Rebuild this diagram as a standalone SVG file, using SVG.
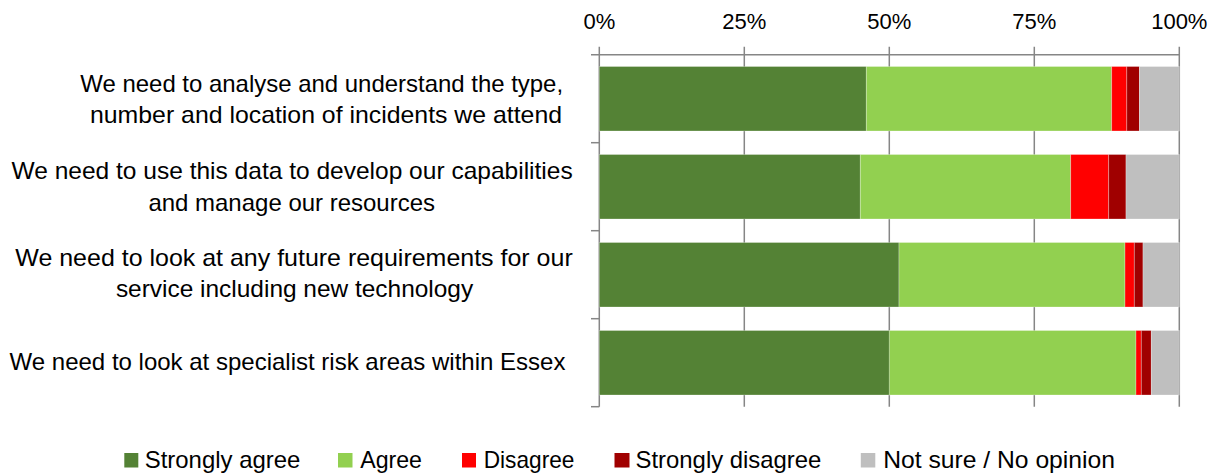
<svg xmlns="http://www.w3.org/2000/svg" width="1218" height="475" viewBox="0 0 1218 475">
<style>
text{font-family:"Liberation Sans",Arial,sans-serif;fill:#000}
.lbl{font-size:24px}
.ax{font-size:22px;text-anchor:middle}
.leg{font-size:24px}
.grid{stroke:#868686;stroke-width:1.5;fill:none}
.seg rect{stroke:#ffffff;stroke-opacity:0.35;stroke-width:0.8}
.sa{fill:#548235}.ag{fill:#92D050}.di{fill:#FF0000}.sd{fill:#A00000}.ns{fill:#BFBFBF}
</style>
<rect width="1218" height="475" fill="#ffffff"/>
<g id="axis-labels">
<text class="ax" x="599.3" y="28.5">0%</text>
<text class="ax" x="744.3" y="28.5">25%</text>
<text class="ax" x="889.3" y="28.5">50%</text>
<text class="ax" x="1034.3" y="28.5">75%</text>
<text class="ax" x="1179.3" y="28.5">100%</text>
</g>
<g id="gridlines" class="grid">
<line x1="591" y1="54.7" x2="1179.3" y2="54.7"/>
<line x1="599.3" y1="46.7" x2="599.3" y2="406.7"/>
<line x1="744.3" y1="46.7" x2="744.3" y2="406.7"/>
<line x1="889.3" y1="46.7" x2="889.3" y2="406.7"/>
<line x1="1034.3" y1="46.7" x2="1034.3" y2="406.7"/>
<line x1="1179.3" y1="46.7" x2="1179.3" y2="406.7"/>
<line x1="591" y1="142.7" x2="599.3" y2="142.7"/>
<line x1="591" y1="230.7" x2="599.3" y2="230.7"/>
<line x1="591" y1="318.7" x2="599.3" y2="318.7"/>
<line x1="591" y1="406.7" x2="599.3" y2="406.7"/>
</g>
<g id="bar1" class="seg">
<rect class="sa" x="599.3" y="66.5" width="267" height="64.5"/>
<rect class="ag" x="866.3" y="66.5" width="245.4" height="64.5"/>
<rect class="di" x="1111.7" y="66.5" width="15.1" height="64.5"/>
<rect class="sd" x="1126.8" y="66.5" width="12.6" height="64.5"/>
<rect class="ns" x="1139.4" y="66.5" width="39.9" height="64.5"/>
</g>
<g id="bar2" class="seg">
<rect class="sa" x="599.3" y="154.5" width="261" height="64.5"/>
<rect class="ag" x="860.3" y="154.5" width="210.4" height="64.5"/>
<rect class="di" x="1070.7" y="154.5" width="38" height="64.5"/>
<rect class="sd" x="1108.7" y="154.5" width="17.3" height="64.5"/>
<rect class="ns" x="1126" y="154.5" width="53.3" height="64.5"/>
</g>
<g id="bar3" class="seg">
<rect class="sa" x="599.3" y="242.5" width="299.7" height="64.5"/>
<rect class="ag" x="899" y="242.5" width="226" height="64.5"/>
<rect class="di" x="1125" y="242.5" width="9.3" height="64.5"/>
<rect class="sd" x="1134.3" y="242.5" width="8.7" height="64.5"/>
<rect class="ns" x="1143" y="242.5" width="36.3" height="64.5"/>
</g>
<g id="bar4" class="seg">
<rect class="sa" x="599.3" y="330.5" width="290" height="64.5"/>
<rect class="ag" x="889.3" y="330.5" width="246.7" height="64.5"/>
<rect class="di" x="1136" y="330.5" width="5.3" height="64.5"/>
<rect class="sd" x="1141.3" y="330.5" width="10" height="64.5"/>
<rect class="ns" x="1151.3" y="330.5" width="28" height="64.5"/>
</g>
<g id="category-labels" class="lbl">
<text class="lbl" x="80.3" y="91.7" textLength="482.8" lengthAdjust="spacingAndGlyphs">We need to analyse and understand the type,</text>
<text class="lbl" x="90" y="123.3" textLength="472" lengthAdjust="spacingAndGlyphs">number and location of incidents we attend</text>
<text class="lbl" x="11.5" y="179" textLength="561.2" lengthAdjust="spacingAndGlyphs">We need to use this data to develop our capabilities</text>
<text class="lbl" x="148.4" y="210.7" textLength="286.6" lengthAdjust="spacingAndGlyphs">and manage our resources</text>
<text class="lbl" x="15.3" y="265.7" textLength="557.4" lengthAdjust="spacingAndGlyphs">We need to look at any future requirements for our</text>
<text class="lbl" x="115.9" y="297.3" textLength="357.3" lengthAdjust="spacingAndGlyphs">service including new technology</text>
<text class="lbl" x="9.6" y="370" textLength="555.8" lengthAdjust="spacingAndGlyphs">We need to look at specialist risk areas within Essex</text>
</g>
<g id="legend">
<rect class="sa" x="124.3" y="453" width="14" height="14.5"/>
<text class="leg" x="144.7" y="468" textLength="155.7" lengthAdjust="spacingAndGlyphs">Strongly agree</text>
<rect class="ag" x="338" y="453" width="14.5" height="14.5"/>
<text class="leg" x="360.2" y="468" textLength="61.8" lengthAdjust="spacingAndGlyphs">Agree</text>
<rect class="di" x="462" y="453" width="14" height="14.5"/>
<text class="leg" x="483.7" y="468" textLength="90.7" lengthAdjust="spacingAndGlyphs">Disagree</text>
<rect class="sd" x="614.5" y="453" width="15" height="14.5"/>
<text class="leg" x="635.5" y="468" textLength="185.9" lengthAdjust="spacingAndGlyphs">Strongly disagree</text>
<rect class="ns" x="860.8" y="453" width="14.5" height="14.5"/>
<text class="leg" x="883.2" y="468" textLength="231.8" lengthAdjust="spacingAndGlyphs">Not sure / No opinion</text>
</g>
</svg>
